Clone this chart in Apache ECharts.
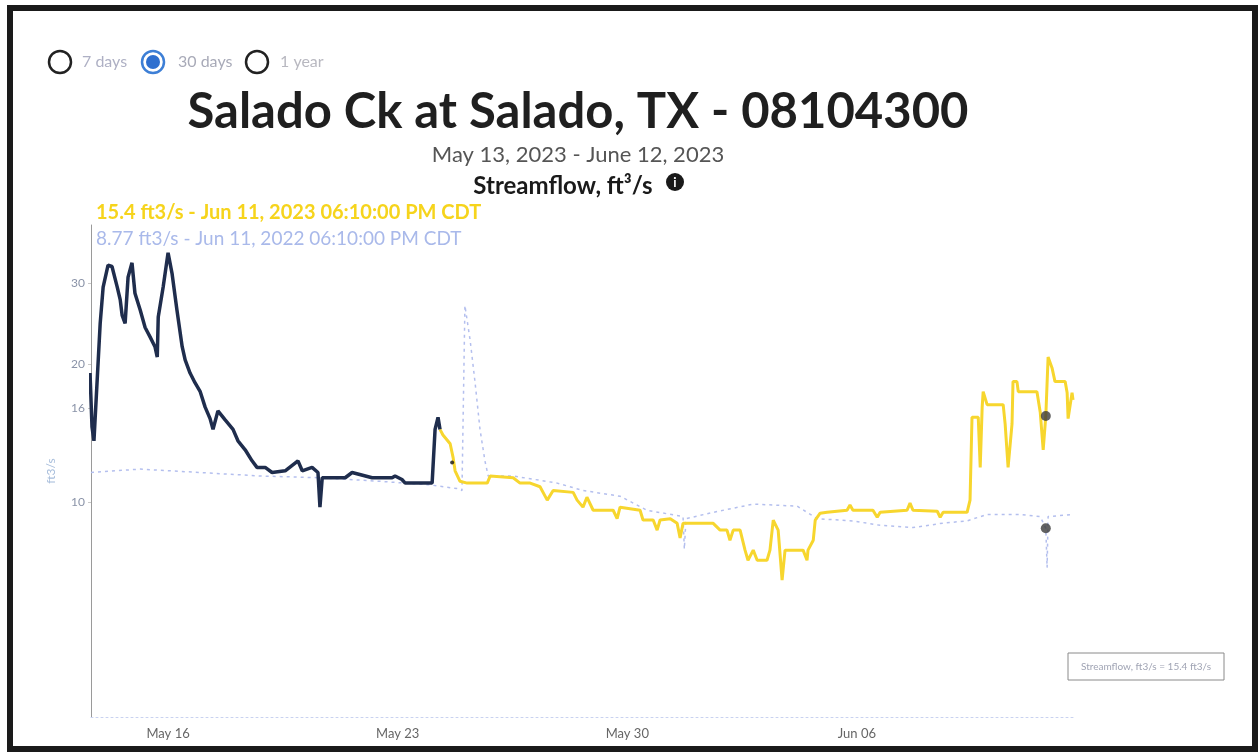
<!DOCTYPE html>
<html>
<head>
<meta charset="utf-8">
<title>Salado Ck at Salado, TX - 08104300</title>
<script src="https://cdn.jsdelivr.net/npm/echarts@6/dist/echarts.min.js"></script>
<style>
    html, body { margin: 0; padding: 0; background: #fff; }
    #chart { width: 1258px; height: 752px; }
</style>
</head>
<body>
<div id="chart"></div>
<script>
    // days since May 13 2023 00:00 CDT, flow in ft3/s
    const approvedDays = [0.62, 0.68, 0.74, 0.80, 0.93, 1.02, 1.17, 1.29, 1.45, 1.54, 1.60, 1.69, 1.78, 1.90, 1.99, 2.15, 2.30, 2.45, 2.60, 2.67, 2.70, 2.85, 3.00, 3.12, 3.27, 3.43, 3.52, 3.67, 3.82, 3.98, 4.13, 4.28, 4.37, 4.52, 4.74, 4.98, 5.13, 5.35, 5.56, 5.71, 5.96, 6.17, 6.57, 6.96, 7.09, 7.39, 7.57, 7.63, 7.70, 8.40, 8.61, 9.22, 9.31, 9.83, 9.92, 10.13, 10.23, 10.62, 11.05, 11.14, 11.23, 11.29]
    const approvedFlow = [19.1, 14.6, 13.6, 13.6, 24.5, 29.4, 32.8, 32.6, 29.4, 27.6, 25.5, 24.5, 30.9, 33.2, 28.5, 26.2, 24.0, 22.9, 21.8, 20.7, 25.3, 29.4, 34.9, 31.5, 26.2, 21.8, 20.4, 19.1, 18.2, 17.4, 16.1, 15.2, 14.4, 15.8, 15.1, 14.4, 13.6, 13.0, 12.3, 11.9, 11.9, 11.6, 11.7, 12.3, 11.7, 11.9, 11.6, 9.75, 11.3, 11.3, 11.6, 11.3, 11.3, 11.3, 11.4, 11.2, 11.0, 11.0, 11.0, 14.4, 15.3, 14.4]

    const provisionalDays = [11.29, 11.38, 11.60, 11.69, 11.75, 11.90, 12.12, 12.73, 12.82, 13.52, 13.73, 14.04, 14.34, 14.56, 14.74, 15.35, 15.47, 15.65, 15.77, 15.96, 16.57, 16.69, 16.78, 17.39, 17.48, 17.79, 17.91, 18.00, 18.31, 18.52, 18.61, 18.70, 19.62, 19.83, 20.04, 20.13, 20.23, 20.44, 20.59, 20.68, 20.84, 20.96, 21.26, 21.35, 21.45, 21.60, 21.72, 21.81, 22.36, 22.48, 22.51, 22.67, 22.73, 22.88, 23.09, 23.70, 23.79, 23.88, 24.49, 24.62, 24.71, 25.53, 25.62, 25.71, 26.45, 26.54, 26.63, 27.36, 27.45, 27.51, 27.70, 27.76, 27.82, 27.85, 27.97, 28.46, 28.52, 28.61, 28.73, 28.76, 28.88, 28.92, 29.49, 29.59, 29.68, 29.76, 29.83, 29.95, 30.04, 30.35, 30.41, 30.44, 30.56, 30.59]
    const provisionalFlow = [14.4, 14.0, 13.4, 12.5, 11.7, 11.1, 11.0, 11.0, 11.4, 11.3, 11.0, 11.0, 10.8, 10.1, 10.6, 10.5, 10.1, 9.75, 10.25, 9.6, 9.6, 9.2, 9.75, 9.6, 9.14, 9.14, 8.69, 9.14, 9.2, 8.99, 8.35, 8.99, 8.99, 8.69, 8.69, 8.26, 8.69, 8.69, 7.86, 7.47, 7.86, 7.47, 7.47, 7.86, 9.14, 8.69, 6.76, 7.86, 7.86, 7.47, 7.86, 8.26, 9.14, 9.46, 9.5, 9.6, 9.85, 9.6, 9.6, 9.27, 9.5, 9.6, 9.95, 9.6, 9.55, 9.27, 9.5, 9.5, 10.1, 15.3, 15.3, 11.9, 16.1, 17.4, 16.3, 16.3, 14.8, 11.9, 14.8, 18.3, 18.3, 17.4, 17.4, 15.7, 13.0, 15.4, 20.7, 19.6, 18.3, 18.3, 17.3, 15.2, 17.3, 16.7]

    // same dates one year earlier (2022)
    const lastYearDays = [0.65, 2.15, 3.98, 5.80, 7.63, 9.46, 10.99, 11.81, 11.96, 12.05, 12.21, 12.36, 12.51, 12.66, 12.76, 13.52, 14.86, 15.65, 16.78, 17.60, 18.70, 18.74, 18.79, 19.62, 20.84, 22.18, 22.79, 23.88, 24.71, 25.71, 26.63, 27.36, 27.97, 28.98, 29.59, 29.76, 29.80, 29.83, 30.59]
    const lastYearFlow = [11.6, 11.8, 11.6, 11.4, 11.3, 11.1, 10.9, 10.7, 10.6, 26.8, 22.5, 18.2, 14.4, 12.3, 11.4, 11.4, 11.0, 10.6, 10.3, 9.6, 9.3, 7.9, 9.2, 9.5, 9.9, 9.8, 9.2, 9.1, 8.9, 8.8, 9.0, 9.1, 9.4, 9.4, 9.3, 8.77, 7.2, 9.3, 9.4]

    const hoverDay = 29.76
    const hoverCurrent = 15.4
    const hoverLastYear = 8.77

    const yTicks = [10, 16, 20, 30]
    const xTickDays = [3, 10, 17, 24]
    const xTickLabels = ['May 16', 'May 23', 'May 30', 'Jun 06']

    const toPoints = (days, flow) => days.map((d, i) => [d, Math.log10(flow[i])])

    const chart = echarts.init(document.getElementById('chart'))
    const font = 'Lato, "Open Sans", sans-serif'

    const option = {
        animation: false,
        textStyle: { fontFamily: font },
        grid: { left: 91, right: 183, top: 225, bottom: 35 },
        xAxis: {
            type: 'value',
            min: 0.65,
            max: 30.65,
            splitLine: { show: false },
            axisTick: { show: false },
            axisLine: { show: true, lineStyle: { color: '#c9d2f0', type: [2, 3], width: 1 } },
            axisLabel: {
                customValues: xTickDays,
                formatter: v => xTickLabels[xTickDays.indexOf(v)] || '',
                color: '#666',
                fontSize: 13,
                margin: 10
            }
        },
        yAxis: {
            type: 'value',
            min: 0.532,
            max: 1.6035,
            splitLine: { show: false },
            axisLine: { show: true, lineStyle: { color: '#9a9a9a', width: 1 } },
            axisTick: { show: true, customValues: yTicks.map(v => Math.log10(v)), length: 3, lineStyle: { color: '#c8c8c8' } },
            axisLabel: {
                customValues: yTicks.map(v => Math.log10(v)),
                formatter: v => String(Math.round(Math.pow(10, v))),
                color: '#8a93a8',
                fontSize: 12,
                margin: 6
            },
            name: 'ft3/s',
            nameLocation: 'middle',
            nameRotate: 90,
            nameGap: 34,
            nameTextStyle: { color: '#a7bddb', fontSize: 12 }
        },
        series: [
            {
                name: 'last year',
                type: 'line',
                data: toPoints(lastYearDays, lastYearFlow),
                symbol: 'none',
                z: 1,
                lineStyle: { color: '#b4bfee', width: 1.5, type: [3, 4] }
            },
            {
                name: 'approved',
                type: 'line',
                data: toPoints(approvedDays, approvedFlow),
                symbol: 'none',
                z: 3,
                lineStyle: { color: '#1f2d4d', width: 3.5 }
            },
            {
                name: 'provisional',
                type: 'line',
                data: toPoints(provisionalDays, provisionalFlow),
                symbol: 'none',
                z: 2,
                lineStyle: { color: '#f7d62e', width: 3 }
            },
            {
                name: 'hover',
                type: 'scatter',
                z: 5,
                symbolSize: 10,
                itemStyle: { color: '#3b3b3b' },
                data: [[hoverDay, Math.log10(hoverCurrent)], [hoverDay, Math.log10(hoverLastYear)]]
            },
            {
                name: 'marker',
                type: 'scatter',
                z: 5,
                symbolSize: 4,
                itemStyle: { color: '#111' },
                data: [[11.66, Math.log10(12.2)]]
            }
        ],
        graphic: [
            // frame
            { type: 'rect', shape: { x: 10, y: 8, width: 1245, height: 741 }, style: { fill: 'none', stroke: '#1a1a1a', lineWidth: 6 }, silent: true },
            // period radio buttons
            { type: 'circle', shape: { cx: 60, cy: 62, r: 11 }, style: { fill: '#fff', stroke: '#222', lineWidth: 2.5 } },
            { type: 'text', x: 82, y: 62, style: { text: '7 days', fill: '#aeb0c4', fontSize: 16, fontFamily: font, textVerticalAlign: 'middle' } },
            { type: 'circle', shape: { cx: 153, cy: 62, r: 11 }, style: { fill: '#fff', stroke: '#3d7fd6', lineWidth: 2.5 } },
            { type: 'circle', shape: { cx: 153, cy: 62, r: 7 }, style: { fill: '#2e6fcf' } },
            { type: 'text', x: 178, y: 62, style: { text: '30 days', fill: '#a8aab8', fontSize: 16, fontFamily: font, textVerticalAlign: 'middle' } },
            { type: 'circle', shape: { cx: 257, cy: 62, r: 11 }, style: { fill: '#fff', stroke: '#222', lineWidth: 2.5 } },
            { type: 'text', x: 280, y: 62, style: { text: '1 year', fill: '#b8b8c0', fontSize: 16, fontFamily: font, textVerticalAlign: 'middle' } },
            // titles
            { type: 'text', x: 578, y: 112, style: { text: 'Salado Ck at Salado, TX - 08104300', fill: '#1f1f1f', fontSize: 49, fontWeight: 'bold', fontFamily: font, textAlign: 'center', textVerticalAlign: 'middle' } },
            { type: 'text', x: 578, y: 155, style: { text: 'May 13, 2023 - June 12, 2023', fill: '#555', fontSize: 22, fontFamily: font, textAlign: 'center', textVerticalAlign: 'middle' } },
            { type: 'text', x: 563, y: 186, style: { text: 'Streamflow, ft³/s', fill: '#1a1a1a', fontSize: 24, fontWeight: 'bold', fontFamily: font, textAlign: 'center', textVerticalAlign: 'middle' } },
            { type: 'circle', shape: { cx: 675, cy: 182, r: 9 }, style: { fill: '#1a1a1a' } },
            { type: 'text', x: 675, y: 183, style: { text: 'i', fill: '#fff', fontSize: 13, fontWeight: 'bold', fontFamily: font, textAlign: 'center', textVerticalAlign: 'middle' } },
            // hover readouts
            { type: 'text', x: 96, y: 213, style: { text: hoverCurrent + ' ft3/s - Jun 11, 2023 06:10:00 PM CDT', fill: '#f6d41c', fontSize: 20, fontWeight: 'bold', fontFamily: font, textVerticalAlign: 'middle' } },
            { type: 'text', x: 96, y: 239, style: { text: hoverLastYear + ' ft3/s - Jun 11, 2022 06:10:00 PM CDT', fill: '#a9b9ea', fontSize: 19, fontFamily: font, textVerticalAlign: 'middle' } },
            // legend box
            { type: 'rect', shape: { x: 1068, y: 653, width: 156, height: 27 }, style: { fill: '#fff', stroke: '#8a8a8a', lineWidth: 1 } },
            { type: 'text', x: 1146, y: 667, style: { text: 'Streamflow, ft3/s = 15.4 ft3/s', fill: '#a0a4b4', fontSize: 10, fontFamily: font, textAlign: 'center', textVerticalAlign: 'middle' } }
        ]
    }

    chart.setOption(option)
</script>
</body>
</html>
